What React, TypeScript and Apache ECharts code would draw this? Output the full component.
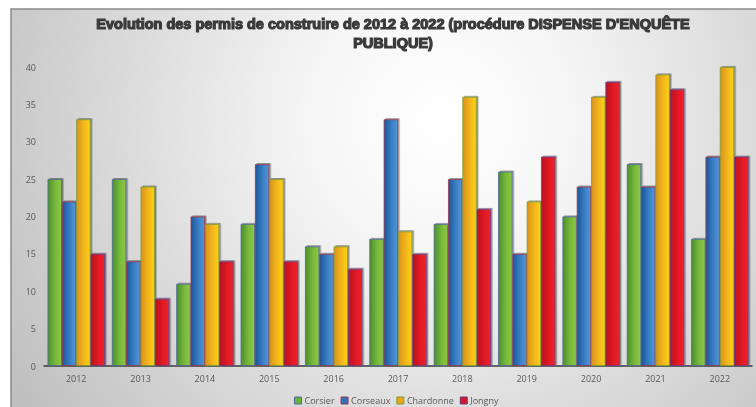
import React, { useEffect, useRef } from "react";
import * as echarts from "echarts";

const years = ["2012", "2013", "2014", "2015", "2016", "2017", "2018", "2019", "2020", "2021", "2022"];
const corsier = [25, 25, 11, 19, 16, 17, 19, 26, 20, 27, 17];
const corseaux = [22, 14, 20, 27, 15, 33, 25, 15, 24, 24, 28];
const chardonne = [33, 24, 19, 25, 16, 18, 36, 22, 36, 39, 40];
const jongny = [15, 9, 14, 14, 13, 15, 21, 28, 38, 37, 28];
const titleLine1 = "Evolution des permis de construire de 2012 à 2022 (procédure DISPENSE D'ENQUÊTE";
const titleLine2 = "PUBLIQUE)";

const seriesDefs = [
  { name: "Corsier", data: corsier, stops: ["#4a8f2a", "#78b83c", "#8dc842"], border: "#4d6c98", solid: "#6bb138" },
  { name: "Corseaux", data: corseaux, stops: ["#1c5699", "#3a7ec4", "#5496d6"], border: "#9a3a4a", solid: "#2f72b8" },
  { name: "Chardonne", data: chardonne, stops: ["#d9921e", "#f2b71a", "#ffd218"], border: "#7f9a30", solid: "#e8aa1c" },
  { name: "Jongny", data: jongny, stops: ["#b8121e", "#e01a24", "#f0222a"], border: "#6a3c8a", solid: "#d8161f" },
];

export default function App() {
  const ref = useRef<HTMLDivElement>(null);
  useEffect(() => {
    if (!ref.current) return;
    const chart = echarts.init(ref.current, null, { renderer: "svg" });
    const lin = (s: string[]) => ({
      type: "linear", x: 0, y: 0, x2: 1, y2: 0,
      colorStops: [
        { offset: 0, color: s[0] },
        { offset: 0.55, color: s[1] },
        { offset: 1, color: s[2] },
      ],
    });
    const titleStyle = {
      fill: "#3a3a3a", stroke: "#3a3a3a", lineWidth: 1.2,
      font: "bold 14.5px 'Liberation Sans', Arial, sans-serif",
      textAlign: "center", textVerticalAlign: "middle",
    };
    chart.setOption({
      animation: false,
      graphic: [
        {
          type: "rect", z: -10, silent: true,
          shape: { x: 11, y: 9, width: 800, height: 420 },
          style: {
            fill: {
              type: "radial", x: 440, y: 120, r: 520, global: true,
              colorStops: [
                { offset: 0, color: "#ffffff" },
                { offset: 0.25, color: "#f6f6f6" },
                { offset: 1, color: "#bdbdbd" },
              ],
            },
            stroke: "#8a8a8a", lineWidth: 1.5,
          },
        },
        { type: "text", x: 393, y: 24, z: 10, style: { ...titleStyle, text: titleLine1 } },
        { type: "text", x: 393, y: 43, z: 10, style: { ...titleStyle, text: titleLine2 } },
      ],
      legend: {
        left: 294, top: 396, padding: 0, itemWidth: 7, itemHeight: 7, itemGap: 6, icon: "rect",
        textStyle: { fontSize: 9, color: "#595959", fontFamily: "'Open Sans', 'Noto Sans', sans-serif", padding: [0, 0, 0, -2] },
        data: seriesDefs.map((s) => ({
          name: s.name,
          itemStyle: { color: s.solid, borderColor: s.border, borderWidth: 1 },
        })),
      },
      grid: { left: 44, right: 4, top: 67, bottom: 41 },
      xAxis: {
        type: "category", data: years,
        axisLine: { lineStyle: { color: "#3a3a3a", width: 1.5 } },
        axisTick: { show: false },
        axisLabel: { fontSize: 9, color: "#595959", margin: 8, fontFamily: "'Open Sans', 'Noto Sans', sans-serif" },
      },
      yAxis: {
        type: "value", min: 0, max: 40, interval: 5,
        axisLine: { show: false }, axisTick: { show: false }, splitLine: { show: false },
        axisLabel: { fontSize: 9, color: "#595959", margin: 8, fontFamily: "'Open Sans', 'Noto Sans', sans-serif" },
      },
      series: seriesDefs.map((s) => ({
        type: "bar", name: s.name, data: s.data,
        barGap: "0%", barCategoryGap: "11%",
        itemStyle: {
          color: lin(s.stops), borderColor: s.border, borderWidth: 0.8,
          shadowColor: "rgba(0,0,0,0.45)", shadowOffsetX: 1.5, shadowOffsetY: -1, shadowBlur: 1,
        },
      })),
    });
    return () => chart.dispose();
  }, []);
  return <div ref={ref} style={{ position: "fixed", left: 0, top: 0, width: 756, height: 407 }} />;
}
